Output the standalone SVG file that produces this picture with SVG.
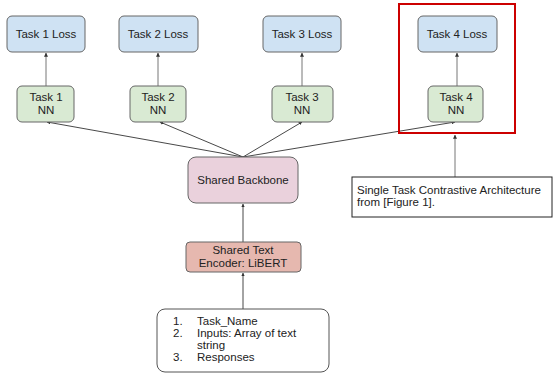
<svg xmlns="http://www.w3.org/2000/svg" width="554" height="375" viewBox="0 0 554 375">
<defs>
<marker id="ah" viewBox="0 0 6 6" refX="5.5" refY="3" markerWidth="4" markerHeight="4" orient="auto"><path d="M0,0 L6,3 L0,6 z" fill="#333"/></marker>
<style>
text{font-family:"Liberation Sans",Arial,sans-serif;font-size:11.5px;fill:#222}
.c{text-anchor:middle}
.loss{fill:#cfe2f3;stroke:#666;stroke-width:1}
.nn{fill:#d9ead3;stroke:#666;stroke-width:1}
.bb{fill:#ead1dc;stroke:#666;stroke-width:1}
.enc{fill:#e6b8af;stroke:#666;stroke-width:1}
.inp{fill:#fff;stroke:#555;stroke-width:1}
.ln{stroke:#333;stroke-width:0.9;fill:none;marker-end:url(#ah)}
.lg{stroke:#777;stroke-width:1;fill:none;marker-end:url(#ah)}
</style>
</defs>
<rect width="554" height="375" fill="#fff"/>
<g id="connectors">
<line class="lg" x1="46" y1="86" x2="46" y2="53"/>
<line class="lg" x1="158" y1="86" x2="158" y2="53"/>
<line class="lg" x1="302" y1="86" x2="302" y2="53"/>
<line class="lg" x1="457" y1="86" x2="457" y2="53"/>
<line class="ln" x1="243" y1="157" x2="47" y2="122"/>
<line class="ln" x1="243" y1="157" x2="160" y2="122"/>
<line class="ln" x1="243" y1="157" x2="302" y2="122"/>
<line class="ln" x1="243" y1="157" x2="455" y2="122"/>
<line class="ln" x1="243" y1="242" x2="243" y2="204"/>
<line class="ln" x1="243" y1="309" x2="243" y2="273"/>
<line class="lg" x1="455" y1="177" x2="455" y2="135"/>
</g>
<g id="highlight"><rect x="399" y="4" width="116" height="129" fill="none" stroke="#cc0000" stroke-width="2"/></g>
<g id="loss1"><rect class="loss" x="7" y="16" width="78" height="36" rx="5"/><text class="c" x="46" y="38">Task 1 Loss</text></g>
<g id="loss2"><rect class="loss" x="119" y="16" width="79" height="36" rx="5"/><text class="c" x="158" y="38">Task 2 Loss</text></g>
<g id="loss3"><rect class="loss" x="263" y="16" width="78" height="36" rx="5"/><text class="c" x="302" y="38">Task 3 Loss</text></g>
<g id="loss4"><rect class="loss" x="418" y="16" width="79" height="36" rx="5"/><text class="c" x="457" y="38">Task 4 Loss</text></g>
<g id="nn1"><rect class="nn" x="17" y="86" width="57" height="36" rx="5"/><text class="c" x="46" y="101">Task 1</text><text class="c" x="46" y="114">NN</text></g>
<g id="nn2"><rect class="nn" x="130" y="86" width="56" height="36" rx="5"/><text class="c" x="158" y="101">Task 2</text><text class="c" x="158" y="114">NN</text></g>
<g id="nn3"><rect class="nn" x="272" y="86" width="61" height="36" rx="5"/><text class="c" x="302" y="101">Task 3</text><text class="c" x="302" y="114">NN</text></g>
<g id="nn4"><rect class="nn" x="428" y="86" width="55" height="36" rx="5"/><text class="c" x="456" y="101">Task 4</text><text class="c" x="456" y="114">NN</text></g>
<g id="backbone"><rect class="bb" x="188" y="157" width="110" height="46" rx="8"/><text class="c" x="243" y="184">Shared Backbone</text></g>
<g id="encoder"><rect class="enc" x="186" y="242" width="115" height="30" rx="4"/><text class="c" x="243" y="254">Shared Text</text><text class="c" x="243" y="267">Encoder: LiBERT</text></g>
<g id="inputs"><rect class="inp" x="157" y="309" width="172" height="63" rx="8"/>
<text x="173" y="325">1.</text><text x="197" y="325">Task_Name</text>
<text x="173" y="337">2.</text><text x="197" y="337">Inputs: Array of text</text>
<text x="197" y="349">string</text>
<text x="173" y="361">3.</text><text x="197" y="361">Responses</text></g>
<g id="note"><rect x="352" y="177" width="200" height="40" fill="#fff" stroke="#222" stroke-width="1"/>
<text x="357" y="194">Single Task Contrastive Architecture</text><text x="357" y="206">from [Figure 1].</text></g>
</svg>
